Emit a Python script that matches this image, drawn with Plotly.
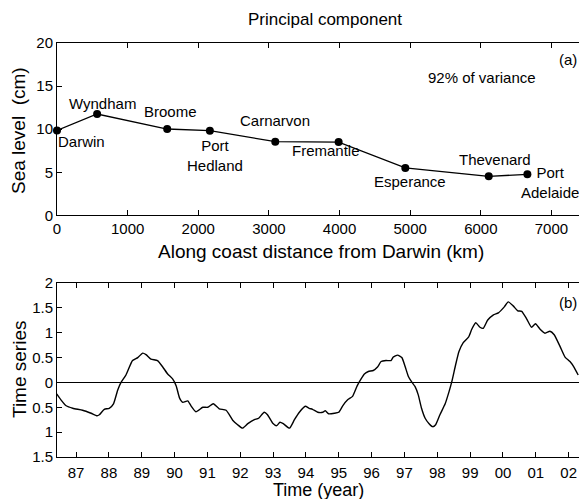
import plotly.graph_objects as go
from plotly.subplots import make_subplots

# ---- Panel (a): principal component along the coast ----
stations = ["Darwin", "Wyndham", "Broome", "Port Hedland", "Carnarvon",
            "Fremantle", "Esperance", "Thevenard", "Port Adelaide"]
distance_km = [0, 568, 1560, 2164, 3090, 3987, 4931, 6112, 6659]
sea_level_cm = [9.85, 11.76, 10.02, 9.83, 8.55, 8.51, 5.50, 4.53, 4.76]

# ---- Panel (b): time series of the principal component ----
years = [1986.41, 1986.54, 1986.70, 1986.90, 1987.20, 1987.46, 1987.64, 1987.71,
         1987.86, 1988.01, 1988.14, 1988.27, 1988.37, 1988.52, 1988.72, 1988.88,
         1989.03, 1989.13, 1989.28, 1989.48, 1989.64, 1989.79, 1989.94, 1990.05,
         1990.15, 1990.25, 1990.40, 1990.50, 1990.65, 1990.86, 1991.01, 1991.18,
         1991.36, 1991.57, 1991.77, 1991.92, 1992.07, 1992.23, 1992.43, 1992.56,
         1992.73, 1992.83, 1992.99, 1993.11, 1993.21, 1993.31, 1993.50, 1993.65,
         1993.80, 1993.98, 1994.10, 1994.20, 1994.36, 1994.51, 1994.59, 1994.69,
         1994.87, 1995.00, 1995.12, 1995.27, 1995.42, 1995.56, 1995.68, 1995.78,
         1995.90, 1996.05, 1996.18, 1996.29, 1996.44, 1996.59, 1996.66, 1996.79,
         1996.92, 1997.02, 1997.12, 1997.22, 1997.32, 1997.42, 1997.52, 1997.63,
         1997.75, 1997.86, 1997.95, 1998.08, 1998.24, 1998.36, 1998.44, 1998.56,
         1998.66, 1998.79, 1998.95, 1999.05, 1999.17, 1999.30, 1999.40, 1999.53,
         1999.71, 1999.86, 2000.04, 2000.16, 2000.31, 2000.45, 2000.57, 2000.72,
         2000.87, 2000.99, 2001.13, 2001.28, 2001.43, 2001.56, 2001.74, 2001.89,
         2002.04, 2002.17, 2002.29]
series = [-0.23, -0.35, -0.47, -0.52, -0.56, -0.62, -0.67, -0.65,
          -0.54, -0.52, -0.43, -0.15, 0.00, 0.15, 0.44, 0.50,
          0.59, 0.56, 0.47, 0.44, 0.31, 0.17, 0.07, -0.07,
          -0.31, -0.40, -0.37, -0.47, -0.59, -0.50, -0.50, -0.43,
          -0.53, -0.56, -0.76, -0.85, -0.92, -0.83, -0.75, -0.72,
          -0.60, -0.65, -0.82, -0.87, -0.80, -0.83, -0.92, -0.75,
          -0.60, -0.48, -0.52, -0.54, -0.60, -0.60, -0.57, -0.63,
          -0.62, -0.60, -0.47, -0.35, -0.28, -0.07, 0.07, 0.17,
          0.22, 0.24, 0.31, 0.42, 0.44, 0.44, 0.51, 0.55,
          0.50, 0.32, 0.12, 0.01, -0.08, -0.25, -0.52, -0.72,
          -0.83, -0.89, -0.85, -0.65, -0.43, -0.18, 0.01, 0.36,
          0.62, 0.80, 0.91, 1.07, 1.20, 1.11, 1.09, 1.25,
          1.36, 1.40, 1.52, 1.62, 1.54, 1.44, 1.43, 1.28,
          1.11, 1.18, 1.07, 0.99, 1.03, 0.96, 0.72, 0.51,
          0.42, 0.30, 0.15]

x_ticks_a = [0, 1000, 2000, 3000, 4000, 5000, 6000, 7000]
y_ticks_a = [0, 5, 10, 15, 20]
year_ticks = list(range(1987, 2003))
year_labels = ["87", "88", "89", "90", "91", "92", "93", "94", "95", "96",
               "97", "98", "99", "00", "01", "02"]
y_ticks_b = [-1.5, -1, -0.5, 0, 0.5, 1, 1.5, 2]
y_labels_b = ["1.5", "1", "0.5", "0", "0.5", "1", "1.5", "2"]

# label placement (data coords) for station names
label_pos = {
    "Darwin": (350, 8.6),
    "Wyndham": (651, 12.96),
    "Broome": (1610, 12.0),
    "Port Hedland": (2230, 6.95),
    "Carnarvon": (3088, 11.02),
    "Fremantle": (3810, 7.5),
    "Esperance": (5000, 3.94),
    "Thevenard": (6204, 6.46),
    "Port Adelaide": (6975, 3.85),
}

FONT = "Liberation Sans, Arial, Helvetica, sans-serif"

fig = make_subplots(rows=2, cols=1, vertical_spacing=0.0)

fig.add_trace(go.Scatter(
    x=distance_km, y=sea_level_cm, mode="lines+markers",
    line=dict(color="black", width=1.3),
    marker=dict(color="black", size=8),
    showlegend=False, cliponaxis=False), row=1, col=1)

fig.add_trace(go.Scatter(
    x=years, y=series, mode="lines",
    line=dict(color="black", width=1.4, shape="spline", smoothing=0.5),
    showlegend=False), row=2, col=1)

axis_common = dict(showline=True, linecolor="black", linewidth=1,
                   ticks="inside", ticklen=5, tickcolor="black",
                   showgrid=False, zeroline=False,
                   tickfont=dict(family=FONT, size=15, color="black"))

fig.update_layout(
    xaxis=dict(domain=[0, 1], range=[0, 7390], tickvals=x_ticks_a,
               mirror="ticks", anchor="y", **axis_common),
    yaxis=dict(domain=[0.5836, 1], range=[0, 20], tickvals=y_ticks_a,
               anchor="x", **axis_common),
    xaxis2=dict(domain=[0, 1], range=[1986.42, 2002.315], tickvals=year_ticks,
                ticktext=year_labels, mirror="ticks", anchor="y2",
                ticklabelstandoff=2, **axis_common),
    yaxis2=dict(domain=[0, 0.4203], range=[-1.5, 2], tickvals=y_ticks_b,
                ticktext=y_labels_b, anchor="x2", **{**axis_common, "zeroline": True},
                zerolinecolor="black", zerolinewidth=1.3),
)

annotations = []
for name in stations:
    lx, ly = label_pos[name]
    annotations.append(dict(
        x=lx, y=ly, xref="x", yref="y", text=name.replace(" ", "<br>"),
        showarrow=False, font=dict(family=FONT, size=15, color="black"),
        xanchor="center", yanchor="middle"))

def ptext(text, x, y, size, angle=0, xanchor="center"):
    annotations.append(dict(
        x=x, y=y, xref="paper", yref="paper", text=text, showarrow=False,
        textangle=angle, xanchor=xanchor, yanchor="middle",
        font=dict(family=FONT, size=size, color="black")))

W = 522.0
H = 414.0
def px(xp):
    return (xp - 57) / W
def py(yp):
    return (457 - yp) / H

ptext("Principal component", px(325), py(20), 17)
ptext("92% of variance", px(482), py(77), 15)
ptext("(a)", px(568), py(60), 15)
ptext("(b)", px(568), py(302), 15)
ptext("Along coast distance from Darwin (km)", px(321), py(251), 19)
ptext("Time (year)", px(318), py(490), 18)
ptext("Sea level  (cm)", px(19), py(131), 19, angle=-90)
ptext("Time series", px(19), py(370), 19, angle=-90)

fig.update_layout(
    annotations=annotations,
    width=579, height=499,
    margin=dict(l=57, r=0, t=43, b=42),
    paper_bgcolor="white", plot_bgcolor="white",
    font=dict(family=FONT, color="black"),
)

fig.write_html("out.html", config={"displayModeBar": False})
